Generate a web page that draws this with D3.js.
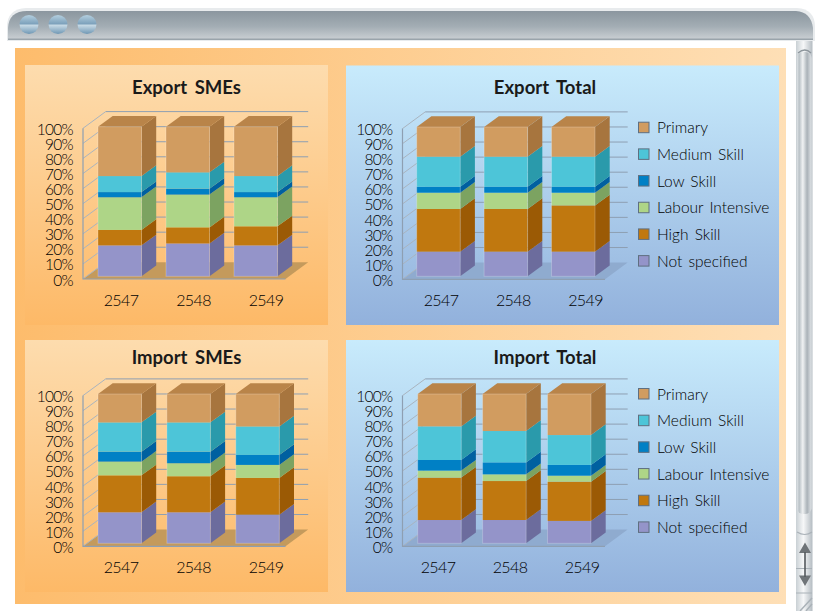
<!DOCTYPE html>
<html><head><meta charset="utf-8">
<script src="https://cdnjs.cloudflare.com/ajax/libs/d3/7.8.5/d3.min.js"></script>
<style>html,body{margin:0;padding:0;background:#fff}svg{display:block}text{font-family:Lato,"Open Sans",sans-serif;fill:#000}</style>
</head><body><svg id="c" width="815" height="611"></svg>
<script>
const years = ["2547","2548","2549"];
const seriesNames = ["Not specified","High Skill","Labour Intensive","Low Skill","Medium Skill","Primary"];
const percentTicks = [0,10,20,30,40,50,60,70,80,90,100];
// one row per year, values in series order
const exportSMEs = [[20.7,10.3,21.8,3.5,10.7,33],[22,10.7,21.9,4,10.9,30.5],[20.7,12.7,19.4,3.5,10.7,33]];
const exportTotal = [[16.5,28.6,10.9,4,20.1,19.9],[16.5,28.6,10.9,4,20.1,19.9],[16.5,31,8.5,4,20.1,19.9]];
const importSMEs = [[20.8,24.7,9.2,6.7,19.6,19],[20.8,24.1,8.7,7.8,19.6,19],[19.2,24.6,8.7,6.7,19.1,21.7]];
const importTotal = [[15.6,28.4,4.7,7.1,22.5,21.7],[15.6,26.1,4.5,8,21,24.8],[15,26.3,4,7.2,20,27.5]];

const frontCol = ["#9494c9","#c0780f","#aed587","#0080c5","#4dc5d8","#d19c60"];
const sideCol  = ["#6c6c9d","#9b5a05","#7ca361","#0060a0","#2a9aab","#a7753e"];
const topCol = "#b98449";

const svg = d3.select("#c");
const defs = svg.append("defs");
function grad(id,dir,stops){
  const g=defs.append("linearGradient").attr("id",id);
  if(dir==="v")g.attr("x1",0).attr("y1",0).attr("x2",0).attr("y2",1);
  else g.attr("x1",0).attr("y1",0).attr("x2",1).attr("y2",0);
  stops.forEach(([o,c])=>g.append("stop").attr("offset",o).attr("stop-color",c));
}
grad("outer","h",[[0,"#fdbc6c"],[1,"#fedfb6"]]);
grad("org","v",[[0,"#fddcae"],[1,"#fdb967"]]);
grad("blu","v",[[0,"#c8ebfc"],[1,"#92b1dc"]]);
grad("bar","v",[[0,"#8b969f"],[.55,"#a3adb4"],[1,"#c9ced2"]]);
grad("scr","h",[[0,"#dfe3e6"],[.15,"#b9c1c6"],[.4,"#f0f2f3"],[.7,"#aab2b8"],[1,"#dfe3e6"]]);
grad("btn","h",[[0,"#c9d0d4"],[.45,"#f6f7f8"],[1,"#b4bcc2"]]);
grad("knob","v",[[0,"#b4cfdf"],[.45,"#7fa3bd"],[.55,"#c4d7e3"],[1,"#6f97b4"]]);

// window chrome
svg.append("path").attr("d","M7,41V27Q7,9 26,8H797Q815,9 815,27V41Z").attr("fill","#e8ebed");
svg.append("path").attr("d","M8,39V28Q9,11 27,11H796Q811,12 813,28V39Z").attr("fill","url(#bar)");
svg.append("rect").attr("x",8).attr("y",38.5).attr("width",805).attr("height",1.5).attr("fill","#9aa4ab");
[29,58,87].forEach(x=>svg.append("circle").attr("cx",x).attr("cy",24.5).attr("r",9.5).attr("fill","url(#knob)"));
// scrollbar
svg.append("rect").attr("x",796).attr("y",41).attr("width",16.5).attr("height",570).attr("fill","url(#btn)");
svg.append("rect").attr("x",797).attr("y",52).attr("width",14.5).attr("height",462).attr("rx",6).attr("fill","url(#scr)");
svg.append("path").attr("d","M798,53Q805,47 811,53").attr("fill","none").attr("stroke","#8d969c").attr("stroke-width",1.2);
svg.append("path").attr("d","M797,532Q805,537 812,532").attr("fill","none").attr("stroke","#aab2b8").attr("stroke-width",1.2);
svg.append("path").attr("d","M796,568.5H812").attr("stroke","#aab2b8");
svg.append("path").attr("d","M805,542.5l-6,10.5h12ZM805,586l-6,-10.5h12Z").attr("fill","#6f7478");
svg.append("rect").attr("x",804.2).attr("y",552).attr("width",1.6).attr("height",25).attr("fill","#555a5e");
svg.append("path").attr("d","M796,593H812").attr("stroke","#aab2b8");
svg.append("path").attr("d","M800,611L812,598M806,611L812,604").attr("stroke","#aab2b8").attr("stroke-width",1.5);

svg.append("rect").attr("x",15).attr("y",48).attr("width",771).attr("height",556).attr("fill","url(#outer)");

const panels = [
 {title:"Export SMEs",data:exportSMEs,x:25,y:65,w:303,h:260,fill:"org",floor:"#c49a5c",ax:83,fy:279,bars:[98,277.5],lab:[121,266],ty:93.5,tx:186.5,lbl:306,top:126.7,bot:276.3,legend:false},
 {title:"Export Total",data:exportTotal,x:346,y:65.5,w:433,h:259.5,fill:"blu",floor:"#8fabcf",ax:402.5,fy:279.3,bars:[416.7,595],lab:[441,585.5],ty:93.5,tx:545,lbl:306,top:127,bot:276.3,legend:true,ly:127.7},
 {title:"Import SMEs",data:importSMEs,x:25,y:340,w:303,h:252,fill:"org",floor:"#c49a5c",ax:83,fy:546.3,bars:[98,279.3],lab:[121,266],ty:364,tx:186.5,lbl:573,top:394,bot:543.3,legend:false},
 {title:"Import Total",data:importTotal,x:346,y:340,w:433,h:252,fill:"blu",floor:"#8fabcf",ax:402.5,fy:546.3,bars:[417.7,591],lab:[438,582],ty:364,tx:545,lbl:573,top:394,bot:543.3,legend:true,ly:394}
];
const legendOrder = seriesNames.slice().reverse();
const wallW=202.5, depthX=22.7, depthY=16.7, barW=43.5, barDX=14.7, barDY=10.7;

panels.forEach(p=>{
  const g=svg.append("g");
  g.append("rect").attr("x",p.x).attr("y",p.y).attr("width",p.w).attr("height",p.h).attr("fill",`url(#${p.fill})`);
  g.append("text").text(p.title).attr("x",p.tx).attr("y",p.ty).attr("text-anchor","middle")
    .attr("font-size",18.5).attr("font-weight",700).style("word-spacing","3px").style("fill","#1a1a1a");

  const yFront=d3.scaleLinear().domain([0,100]).range([p.fy,p.fy-150.7]);
  const yBack=d3.scaleLinear().domain([0,100]).range([p.fy-depthY,p.fy-depthY-150.7]);
  const yBar=d3.scaleLinear().domain([0,100]).range([p.bot,p.top]);

  g.append("path").attr("fill",p.floor)
   .attr("d",`M${p.ax},${p.fy}H${p.ax+wallW}L${p.ax+wallW+depthX},${p.fy-depthY}H${p.ax+depthX}Z`);
  const grid=g.append("g").attr("fill","none").attr("stroke","#8e9fb2").attr("stroke-width",1);
  percentTicks.forEach(t=>{
    if(t>0) grid.append("path").attr("d",`M${p.ax+depthX},${yBack(t)}H${p.ax+wallW+depthX}`);
    grid.append("path").attr("d",`M${p.ax},${yFront(t)}L${p.ax+depthX},${yBack(t)}`).attr("stroke","#a9b4bf");
  });
  grid.append("path").attr("d",`M${p.ax},${yFront(100)}V${p.fy}H${p.ax+wallW}`).attr("stroke","#8e9fb2").attr("stroke-width",1.2);

  g.append("g").selectAll("text").data(percentTicks).join("text")
    .text(d=>d+"%").attr("x",p.ax-10).attr("y",d=>yFront(d)+6.5).attr("text-anchor","end")
    .attr("font-size",15.5).attr("font-weight",300).attr("letter-spacing",-.7);

  const span=p.bars[1]-p.bars[0], step=(span-barW)/2;
  const x=d3.scaleBand().domain(years).range(p.bars).paddingInner(1-barW/step).paddingOuter(0);
  years.forEach((yr,i)=>{
    const bx=x(yr), bw=x.bandwidth(), b=g.append("g");
    const stack=d3.cumsum(p.data[i]);
    const lows=[0,...stack.slice(0,-1)];
    p.data[i].forEach((v,s)=>{
      const y0=yBar(lows[s]), y1=yBar(stack[s]);
      b.append("path").attr("fill",sideCol[s])
       .attr("d",`M${bx+bw},${y0}L${bx+bw+barDX},${y0-barDY}V${y1-barDY}L${bx+bw},${y1}Z`);
      b.append("rect").attr("x",bx).attr("y",y1).attr("width",bw).attr("height",y0-y1).attr("fill",frontCol[s]);
    });
    const yt=yBar(stack[5]);
    b.append("path").attr("fill",topCol).attr("d",`M${bx},${yt}L${bx+barDX},${yt-barDY}H${bx+bw+barDX}L${bx+bw},${yt}Z`);
    b.append("rect").attr("x",bx).attr("y",yt).attr("width",bw).attr("height",yBar(0)-yt).attr("fill","none").attr("stroke","#fff").attr("stroke-opacity",.22);
  });

  const lx=d3.scalePoint().domain(years).range(p.lab);
  g.append("g").selectAll("text").data(years).join("text").text(d=>d)
    .attr("x",d=>lx(d)).attr("y",p.lbl).attr("text-anchor","middle").attr("font-size",16).attr("font-weight",300).attr("letter-spacing",-.6);

  if(p.legend){
    const ly=d3.scalePoint().domain(legendOrder).range([p.ly,p.ly+133.4]);
    const lg=g.append("g");
    legendOrder.forEach(n=>{
      const s=seriesNames.indexOf(n);
      lg.append("rect").attr("x",638.5).attr("y",ly(n)-5.5).attr("width",10.5).attr("height",10.5)
        .attr("fill",frontCol[s]).attr("stroke","#5f6f80").attr("stroke-width",1);
      lg.append("text").text(n).attr("x",657).attr("y",ly(n)+5.5).attr("font-size",15.5).attr("font-weight",300).style("word-spacing","2px");
    });
  }
});
</script></body></html>
